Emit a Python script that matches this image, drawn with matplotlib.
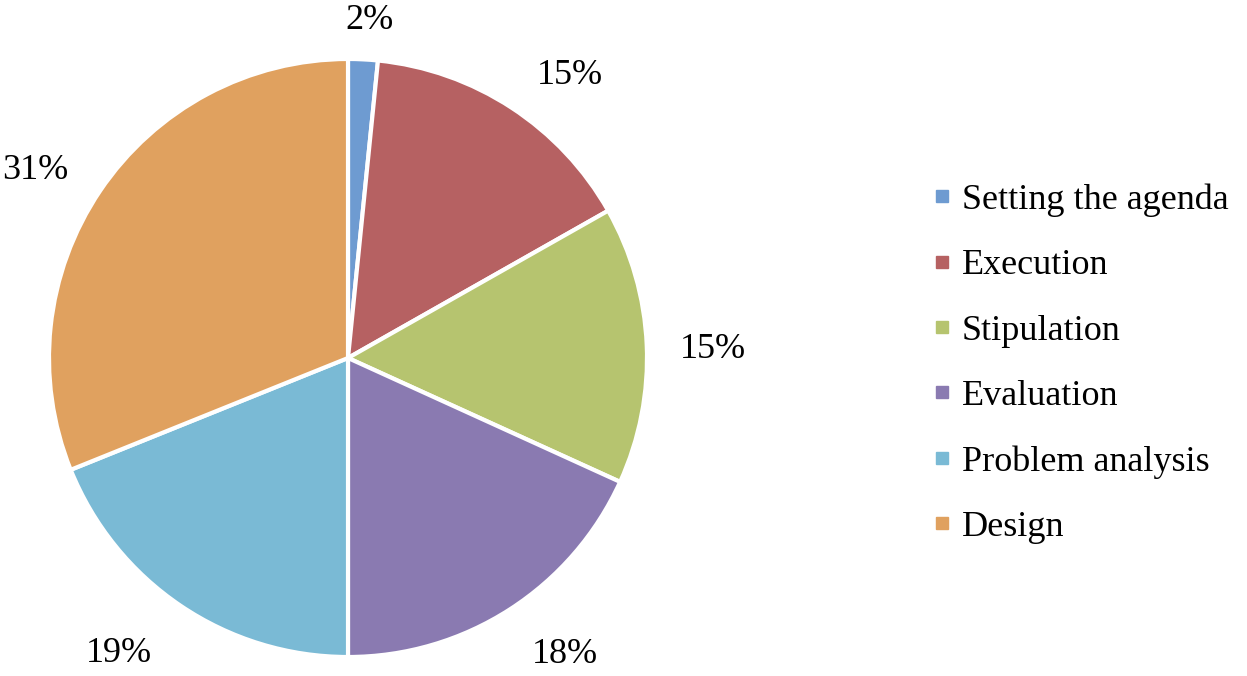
import numpy as np
import matplotlib.pyplot as plt
from matplotlib.lines import Line2D

# Pie shares (percent)
stages = ["Setting the agenda", "Execution", "Stipulation", "Evaluation",
          "Problem analysis", "Design"]
shares = [1.6, 15.2, 15.0, 18.2, 18.9, 31.1]
colors = ["#6E9BD1", "#B66162", "#B6C46F", "#8A7AB1", "#7ABAD5", "#E0A15F"]
# where each percentage label sits: radius factor and angle nudge (deg)
label_dist = [1.13, 1.20, 1.22, 1.23, 1.25, 1.22]
label_nudge = [-0.8, -5.0, -1.2, 3.4, -3.7, 3.0]

plt.rcParams['font.family'] = ['Liberation Serif', 'DejaVu Serif']

W, H = 1247, 676
fig = plt.figure(figsize=(W / 100, H / 100), dpi=100)

# pie centre and radius in pixels
cx, cy, r = 348, 358, 299
ax = fig.add_axes([(cx - r) / W, 1 - (cy + r) / H, 2 * r / W, 2 * r / H])

wedges, _ = ax.pie(shares, colors=colors, startangle=90, counterclock=False,
                   radius=1, wedgeprops=dict(edgecolor="white", linewidth=3))

# percentage labels outside the slices
for w, v, d, n in zip(wedges, shares, label_dist, label_nudge):
    mid = np.deg2rad((w.theta1 + w.theta2) / 2 + n)
    ax.text(d * np.cos(mid), d * np.sin(mid), "%.0f%%" % v,
            ha="center", va="center", fontsize=26, clip_on=False)

ax.set_xlim(-1, 1)
ax.set_ylim(-1, 1)
ax.set_aspect("equal")
ax.axis("off")

handles = [Line2D([], [], marker="s", linestyle="none", markersize=8.5,
                  markerfacecolor=c, markeredgecolor=c) for c in colors]
fig.legend(handles, stages, loc="center left", bbox_to_anchor=(0.748, 0.462),
           frameon=False, fontsize=26, handlelength=0.5, handletextpad=0.3,
           labelspacing=0.89, borderpad=0, borderaxespad=0)

fig.savefig("out.png", dpi=100)
